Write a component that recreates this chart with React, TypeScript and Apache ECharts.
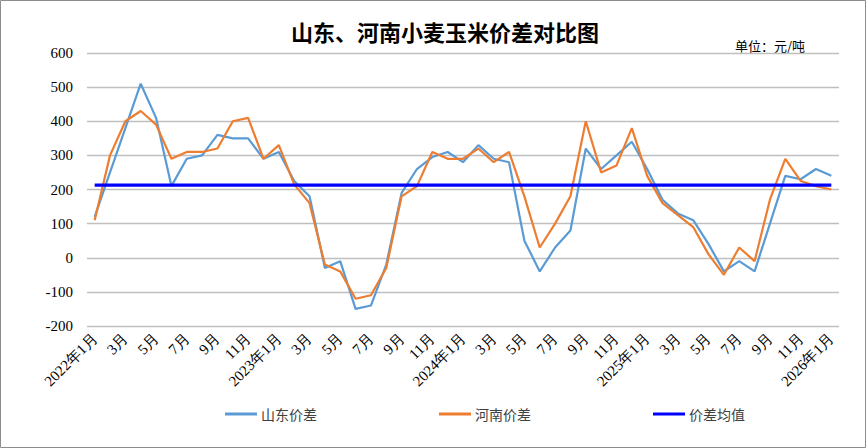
import React, { useEffect, useRef } from "react";
import * as echarts from "echarts";

const years = [2022, 2023, 2024, 2025, 2026];
const monthsPerYear = 12;
const totalMonths = 49;

const shandong = [
  120, 250, 380, 510, 410, 210, 290, 300, 360, 350, 350, 290,
  310, 225, 180, -30, -10, -150, -140, -20, 190, 260, 295, 310,
  280, 330, 290, 280, 50, -40, 30, 80, 320, 260, 300, 340,
  260, 170, 130, 110, 40, -40, -10, -40, 100, 240, 230, 260,
  240,
];
const henan = [
  110, 300, 400, 430, 390, 290, 310, 310, 320, 400, 410, 290,
  330, 215, 160, -20, -40, -120, -110, -30, 180, 210, 310, 290,
  290, 320, 280, 310, 180, 30, 100, 180, 400, 250, 270, 380,
  240, 160, 125, 90, 10, -50, 30, -10, 170, 290, 225, 210,
  200,
];
const averageValue = 213;

const seriesNames = ["山东价差", "河南价差", "价差均值"];
const titleText = "山东、河南小麦玉米价差对比图";
const unitText = "单位：元/吨";

const categories: string[] = [];
for (let i = 0; i < totalMonths; i++) {
  const y = years[Math.floor(i / monthsPerYear)];
  const m = (i % monthsPerYear) + 1;
  categories.push(m === 1 ? `${y}年${m}月` : `${m}月`);
}

export default function App() {
  const ref = useRef<HTMLDivElement>(null);
  useEffect(() => {
    if (!ref.current) return;
    const chart = echarts.init(ref.current, null, { renderer: "svg" });
    const avgData = categories.map(() => averageValue);
    chart.setOption({
      animation: false,
      backgroundColor: "#fff",
      title: {
        text: titleText,
        left: 440,
        textAlign: "center",
        top: 15,
        textStyle: {
          fontFamily: "Noto Sans CJK SC",
          fontSize: 22,
          fontWeight: "bold",
          color: "#000",
        },
      },
      graphic: [
        {
          type: "rect",
          shape: { x: 0.5, y: 0.5, width: 865, height: 447 },
          style: { fill: "none", stroke: "#8c8c8c", lineWidth: 1 },
          silent: true,
        },
        {
          type: "text",
          x: 735,
          y: 45,
          style: {
            text: unitText,
            fontFamily: "Noto Sans CJK SC",
            fontSize: 13,
            fill: "#000",
            textVerticalAlign: "middle",
          },
        },
      ],
      legend: {
        left: 220,
        top: 402,
        itemGap: 122,
        itemWidth: 32,
        itemHeight: 3,
        icon: "rect",
        textStyle: {
          fontFamily: "Noto Sans CJK SC",
          fontSize: 14,
          color: "#404040",
          padding: [0, 0, 0, -1],
        },
        data: seriesNames,
      },
      grid: { left: 87, right: 27, top: 53, bottom: 122, containLabel: false },
      xAxis: {
        type: "category",
        data: categories,
        boundaryGap: true,
        axisLine: { show: false },
        axisTick: { show: false },
        axisLabel: {
          interval: 1,
          rotate: 45,
          margin: 10,
          fontFamily: "Liberation Serif",
          fontSize: 15,
          color: "#000",
        },
      },
      yAxis: {
        type: "value",
        min: -200,
        max: 600,
        interval: 100,
        axisLine: { show: false },
        axisTick: { show: false },
        axisLabel: {
          margin: 14,
          fontFamily: "Liberation Serif",
          fontSize: 15,
          color: "#000",
        },
        splitLine: { lineStyle: { color: "#bfbfbf", width: 1.3 } },
      },
      series: [
        {
          name: seriesNames[0],
          type: "line",
          data: shandong,
          symbol: "none",
          lineStyle: { color: "#5B9BD5", width: 2.2 },
          itemStyle: { color: "#5B9BD5" },
        },
        {
          name: seriesNames[1],
          type: "line",
          data: henan,
          symbol: "none",
          lineStyle: { color: "#ED7D31", width: 2.2 },
          itemStyle: { color: "#ED7D31" },
        },
        {
          name: seriesNames[2],
          type: "line",
          data: avgData,
          symbol: "none",
          lineStyle: { color: "#0000FF", width: 3.2 },
          itemStyle: { color: "#0000FF" },
        },
      ],
    });
    return () => chart.dispose();
  }, []);
  return <div ref={ref} style={{ width: 866, height: 448, position: "absolute", left: 0, top: 0 }} />;
}
